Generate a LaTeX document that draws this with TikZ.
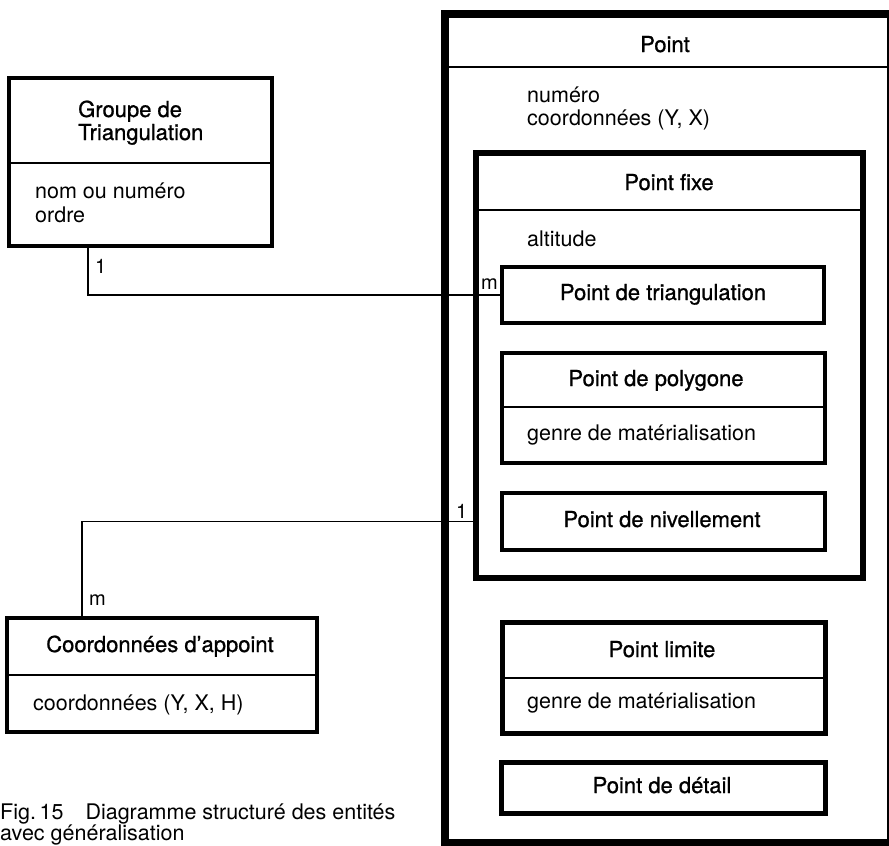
\documentclass[tikz,border=0pt]{standalone}
\usepackage{fontspec}
\setmainfont{TeX Gyre Heros}
\newfontfamily\ttlfont[FakeBold=0.9]{TeX Gyre Heros}
\begin{document}
\begin{tikzpicture}[x=1pt,y=-1pt,
  box/.style={draw, rectangle, anchor=north west, inner sep=0pt, outer sep=0pt},
  ttl/.style={font=\ttlfont\fontsize{22}{26}\selectfont, anchor=base, inner sep=0pt},
  ttlw/.style={font=\ttlfont\fontsize{22}{26}\selectfont, anchor=base west, inner sep=0pt},
  att/.style={font=\fontsize{21.5}{24}\selectfont, anchor=base west, inner sep=0pt},
  card/.style={font=\fontsize{20}{22}\selectfont, anchor=base west, inner sep=0pt},
  sep/.style={line width=1.4pt},
  conn/.style={line width=1.8pt}]
\useasboundingbox (0,0) rectangle (889,846);

% boxes
\node[box, line width=8pt, minimum width=446pt, minimum height=829pt] (point) at (445,14) {};
\node[box, line width=6pt, minimum width=387pt, minimum height=425pt] (fix) at (476,153) {};
\node[box, line width=3.5pt, minimum width=322pt, minimum height=56pt] (tri) at (502,267) {};
\node[box, line width=3.5pt, minimum width=323pt, minimum height=110pt] (pol) at (502,353) {};
\node[box, line width=3.5pt, minimum width=323pt, minimum height=57pt] (niv) at (502,493) {};
\node[box, line width=5pt, minimum width=323pt, minimum height=111pt] (lim) at (502,622) {};
\node[box, line width=5pt, minimum width=324pt, minimum height=51pt] (det) at (501,762) {};
\node[box, line width=4pt, minimum width=263pt, minimum height=168pt] (grp) at (9,78) {};
\node[box, line width=4pt, minimum width=310pt, minimum height=114pt] (crd) at (7,618) {};

% separators
\draw[sep] (445,67) -- (891,67);
\draw[sep] (476,210) -- (863,210);
\draw[sep] (502,407) -- (825,407);
\draw[sep] (502,678) -- (825,678);
\draw[sep] (9,163) -- (272,163);
\draw[sep] (7,675) -- (317,675);

% connectors
\coordinate (c1) at (88,0);
\coordinate (c2) at (82,0);
\draw[conn] (grp.south -| c1) |- (tri.west);
\draw[conn] (crd.north -| c2) |- (fix.west |- niv.west);

% cardinalities
\node[card] (k1) at (95,273) {1};
\node[card] (k2) at (481,289) {m};
\node[card] (k3) at (456,518) {1};
\node[card] (k4) at (89,605) {m};

% texts
\node[ttl] (tpoint) at (665,52) {Point};
\node[att] (a1) at (527,102) {numéro};
\node[att] (a2) at (527,125) {coordonnées (Y, X)};
\node[ttl] (tfix) at (669,190) {Point fixe};
\node[att] (a3) at (527,246) {altitude};
\node[ttl] (ttri) at (663,300) {Point de triangulation};
\node[ttl] (tpol) at (656,386) {Point de polygone};
\node[att] (a4) at (527,440) {genre de matérialisation};
\node[ttl] (tniv) at (662,527) {Point de nivellement};
\node[ttl] (tlim) at (662,657) {Point limite};
\node[att] (a5) at (527,708) {genre de matérialisation};
\node[ttl] (tdet) at (662,793) {Point de détail};
\node[ttlw] (tg1) at (78,117) {Groupe de};
\node[ttlw] (tg2) at (78,140) {Triangulation};
\node[att] (a6) at (35,198) {nom ou numéro};
\node[att] (a7) at (35,222) {ordre};
\node[ttl] (tcrd) at (160,652) {Coordonnées d’appoint};
\node[att] (a8) at (33,710) {coordonnées (Y, X, H)};

% caption
\node[att] (cap1) at (0,819) {Fig.\,15\hspace{22pt}Diagramme structuré des entités};
\node[att] (cap2) at (0,840) {avec généralisation};
\end{tikzpicture}
\end{document}
